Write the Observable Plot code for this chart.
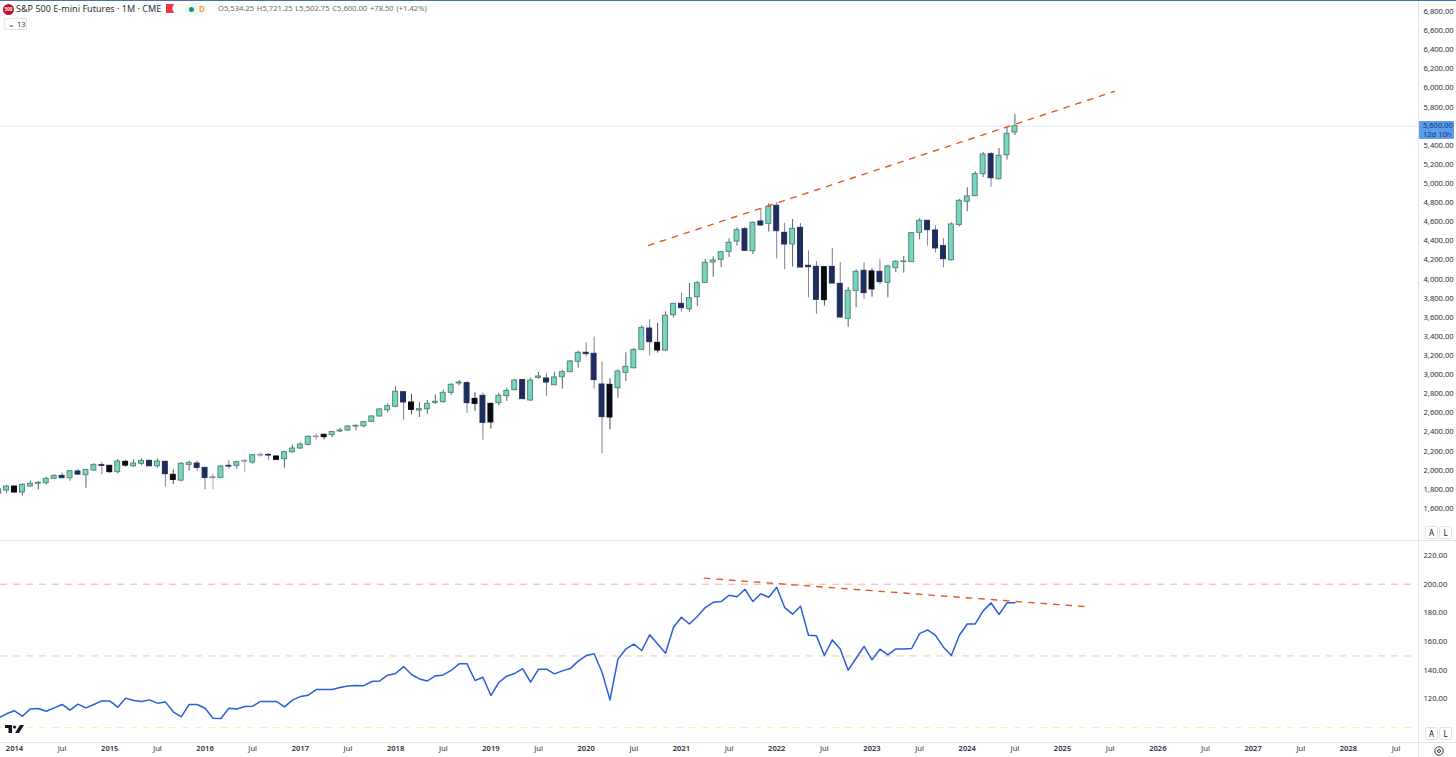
<!DOCTYPE html>
<html><head><meta charset="utf-8">
<script src="https://cdn.jsdelivr.net/npm/d3@7"></script>
<script src="https://cdn.jsdelivr.net/npm/@observablehq/plot@0.6"></script>
<style>
html,body{margin:0;padding:0;background:#fff;overflow:hidden;width:1456px;height:757px}
#page{position:relative;width:1456px;height:757px;font-family:"Noto Sans","Open Sans",sans-serif;color:#131722}
#top,#bottom{position:absolute;left:0}
#top{top:0}#bottom{top:540px}
svg{display:block}
.ov{position:absolute;white-space:nowrap;line-height:1}
.btn{position:absolute;width:11px;height:11px;border:1px solid #e0e3eb;border-radius:2px;font-size:8px;text-align:center;line-height:11px;background:#fff;color:#131722}
</style></head><body><div id="page">
<div id="top"></div><div id="bottom"></div>
<div class="ov" style="left:0;top:0;width:1456px;height:1px;background:#4a6db0"></div>
<div class="ov" style="left:0;top:540px;width:1456px;height:1px;background:#e0e3eb"></div>
<div class="ov" style="left:0;top:742px;width:1456px;height:1px;background:#e0e3eb"></div>
<div class="ov" style="left:1418px;top:1px;width:1px;height:756px;background:#e0e3eb"></div>
<div class="ov" style="left:3px;top:4px;width:11px;height:11px;border-radius:50%;background:#c8102e;color:#fff;font-size:4.5px;font-weight:700;text-align:center;line-height:11px">500</div>
<div class="ov" style="left:16px;top:4px;font-size:9px;letter-spacing:.03px;color:#2a2e39">S&amp;P 500 E-mini Futures · 1M · CME</div>
<svg class="ov" style="left:166px;top:4px" width="9" height="10"><path d="M0 0H8L6 4.5 8 9H0Z" fill="#f23645"/></svg>
<div class="ov" style="left:185px;top:3px;width:22px;height:13px;border-radius:7px;background:#f2f6f5"></div>
<div class="ov" style="left:189px;top:7px;width:5px;height:5px;border-radius:50%;background:#089981"></div>
<div class="ov" style="left:199px;top:5px;font-size:8px;color:#f0a030;font-weight:600">D</div>
<div class="ov" style="left:218px;top:5px;font-size:7.6px;color:#666a75;word-spacing:.8px">O5,534.25 H5,721.25 L5,502.75 C5,600.00 +78.50 (+1.42%)</div>
<div class="ov" style="left:4px;top:18px;width:21px;height:10px;border:1px solid #e0e3eb;border-radius:2px;font-size:7.5px;line-height:10px;color:#333"><span style="margin-left:3px">⌄</span> <span>13</span></div>
<div class="ov" style="left:1419px;top:121px;width:35px;height:18px;background:#5b9cf0;border-radius:1px;color:#17375f;font-size:7.5px;line-height:9px;padding-left:4px;box-sizing:border-box">5,600.00<br>12d 10h</div>
<div class="btn" style="left:1425px;top:526px">A</div><div class="btn" style="left:1439px;top:526px">L</div>
<div class="btn" style="left:1425px;top:727px">A</div><div class="btn" style="left:1439px;top:727px">L</div>
<svg class="ov" style="left:1433px;top:745px" width="12" height="12"><circle cx="6" cy="6" r="4.2" fill="none" stroke="#333" stroke-width="1"/><circle cx="6" cy="6" r="1.5" fill="none" stroke="#333" stroke-width="1"/></svg>
<svg class="ov" style="left:5px;top:725px" width="19" height="9"><path d="M0 0H7V8H3.5V3H0Z M15 0H19L14 8H10Z" fill="#131722"/><circle cx="9.5" cy="2" r="1.6" fill="#131722"/></svg>
</div>
<script>
const highs=[1810,1840,1833,1858,1882,1882,1927,1952,1973,1997,2008,2008,2067,2084,2053,2112,2102,2112,2119,2109,2119,2095,2004,2081,2098,2098,2032,1962,2049,2102,2095,2109,2161,2182,2175,2151,2199,2262,2287,2360,2377,
2378,2406,2437,2465,2475,2507,2570,2646,2695,2873,2824,2796,2706,2730,2789,2838,2904,2939,2929,2810,2807,2702,2807,2859,2950,2946,2964,3023,3009,3023,3047,3148,3246,3333,3393,3131,2957,3051,3229,3274,
3511,3577,3536,3658,3748,3853,3954,3975,4205,4233,4289,4421,4536,4543,4599,4739,4787,4801,4585,4624,4582,4296,4184,4132,4320,4174,3912,
4097,4171,4108,4202,4146,4195,4237,4488,4631,4613,4558,4425,4589,4833,4955,5123,5325,5325,5367,5583,5721.25];
const lows=[1736,1753,1760,1729,1823,1795,1847,1903,1913,1885,1945,1812,1990,1952,1969,1962,2032,2028,2049,2039,2021,1823,1851,1878,1990,1987,1795,1798,1917,2011,2011,1980,2063,2137,2105,2105,2021,2179,2220,2255,2311,
2318,2339,2395,2406,2413,2444,2500,2556,2601,2653,2524,2580,2552,2587,2688,2702,2786,2883,2597,2618,2315,2430,2674,2720,2831,2740,2720,2953,2772,2887,2849,3023,3068,3183,2849,2172,2423,2754,2929,3058,
3253,3194,3225,3243,3595,3654,3654,3713,3954,4020,4121,4226,4345,4289,4257,4554,4491,4212,4097,4125,4118,3804,3633,3717,3950,3595,3497,
3700,3787,3811,3944,3804,4069,4062,4174,4411,4345,4272,4118,4188,4547,4704,4865,5063,4962,5039,5245,5502.75];
const opens=[1755,1788,1830,1767,1830,1858,1865,1910,1941,1917,1987,1948,1997,2053,2046,1980,2088,2042,2067,2098,2042,2088,1952,1892,2056,2070,2025,1927,1920,2046,2046,2098,2081,2161,2161,2144,2116,2189,2227,2266,2353,
2371,2367,2406,2416,2458,2461,2507,2563,2629,2664,2817,2709,2625,2639,2706,2713,2810,2908,2911,2747,2779,2695,2702,2775,2838,2943,2730,2967,2960,2890,2974,3026,3135,3229,3218,2897,2894,2859,3019,3068,
3260,3483,3333,3253,3623,3741,3685,3811,3961,4174,4202,4285,4393,4522,4292,4603,4578,4767,4484,4362,4536,4139,4128,4125,4128,3950,3584,
3878,4087,4080,4076,3961,4115,4178,4178,4484,4610,4509,4345,4198,4565,4809,4868,5098,5307,5046,5297,5534.25];
const closes=[1800,1830,1767,1847,1858,1868,1910,1941,1917,1990,1955,2004,2056,2046,1980,2091,2049,2070,2098,2042,2091,1959,1899,2067,2077,2025,1920,1917,2039,2039,2084,2091,2158,2154,2154,2109,2189,2227,2269,2350,2346,
2346,2399,2416,2458,2465,2503,2563,2636,2671,2821,2709,2632,2639,2695,2716,2810,2894,2918,2702,2695,2496,2500,2779,2831,2939,2744,2939,2981,2918,2971,3026,3138,3229,3215,2943,2556,2552,3033,3082,3257,
3490,3340,3253,3616,3741,3696,3800,3957,4170,4195,4282,4379,4512,4296,4589,4561,4756,4502,4362,4526,4121,4125,3783,3780,3954,3598,3877,
4076,3853,3892,3968,4132,4181,4185,4481,4610,4512,4321,4209,4572,4819,4865,5098,5304,5056,5290,5520,5600];
// u up (teal), d down (navy), k black, l thin pale doji
const kinds=[
"u","u","k","u","u","u","u","u","d","u","d","u","u","d","k","u","k","u","u","d","u","d","k","u","u","d","d","l","u","d","u","l","u","l","d","k","u","u","u","u","l",
"k","u","u","u","u","u","u","u","u","u","d","k","u","u","u","u","u","u","d","k","d","k","u","u","u","d","u","u","d","u","u","u","u","d","d","d","k","u","u","u",
"u","d","k","u","u","d","u","u","u","u","u","u","u","d","u","d","u","d","d","u","d","d","d","k","d","d","u",
"u","d","k","d","u","u","u","u","u","d","d","d","u","u","u","u","u","d","u","u","u"];
// oscillator, one value per month from the same first month
const osc=[106.9,109.7,111.8,108,113.1,113.4,111.5,113.8,116.2,112.2,116.4,113.8,116.2,118.7,118.7,114.3,120.6,119,118.3,119.4,117.1,118,111.1,107.6,116.2,116.2,113.6,106.6,106.4,113.6,113.1,114.8,115,118.3,118.3,118.3,114.5,119.2,121.7,122.7,126.6,126.6,126.6,128,129,129.4,129.3,
132.2,132.6,136.6,137.8,142.6,137.1,134,132.6,136.1,136.8,139.9,144.5,144.5,132.9,135.2,122.4,131.5,135.9,137.8,141.2,131.7,140.8,140.8,137.5,139.6,141.2,146.4,150.3,151.5,138.7,119.4,147.7,154.9,158.2,153.8,164.7,158.4,151.9,170,
177,172.3,177.5,183.7,187.4,187.9,192.3,191.2,196.5,187.9,193.3,190.9,197.9,183.7,179.1,184.7,164.4,164,150.3,161.2,154.9,140.1,148.4,156.6,147.3,154.7,150.7,154.9,154.9,155.2,165.6,168.2,164.4,156.1,150.3,164.4,172.3,172.3,181.4,187,178.9,187,187];
const firstMonth=-2;
const candles=opens.map((o,k)=>({i:k+firstMonth,o,c:closes[k],h:highs[k],l:lows[k],kind:kinds[k]}));
const oscRows=osc.map((v,k)=>({i:k+firstMonth,v}));
const priceTicks=d3.range(1600,6801,200);
const oscTicks=[120,140,160,180,200,220];
const yearTicks=[0,12,24,36,48,60,72,84,96,108,120,132,144,156,168];
const yearLabels=["2014","2015","2016","2017","2018","2019","2020","2021","2022","2023","2024","2025","2026","2027","2028"];
const priceTrendX=[79.85,138.5],priceTrendY=[4352,5963];
const oscTrendX=[86.9,135.1],oscTrendY=[204.2,184.3];
const oscLevels=[{v:200,c:"#f5aaaa"},{v:150,c:"#f6c88a"},{v:100,c:"#fbe8a2"}];
const fills={u:"#7ad4bf",d:"#1f2d5e",k:"#0a0a14",l:"#8c92a8"};
const strokes={u:"#4f8a7c",d:"#1f2d5e",k:"#0a0a14",l:"#8c92a8"};
const wicks={u:"#566464",d:"#7b8299",k:"#454750",l:"#a0a5b8"};
const font='"Noto Sans","Open Sans",sans-serif';
const xDomain=[-1.763,176.83];
const W=1456,MR=38;

const topChart=Plot.plot({width:W,height:540,marginLeft:0,marginRight:MR,marginTop:0,marginBottom:0,
 style:{background:"transparent",fontFamily:font,fontSize:"7.6px",color:"#131722"},
 x:{domain:xDomain,axis:null},
 y:{domain:[1265,6915],axis:null},
 marks:[
  Plot.ruleY([5600],{stroke:"#c4d6f2",strokeWidth:1,strokeDasharray:"1 1"}),
  Plot.ruleX(candles,{x:"i",y1:"l",y2:"h",stroke:d=>wicks[d.kind],strokeWidth:1,clip:true}),
  Plot.rect(candles,{x1:d=>d.i-.31,x2:d=>d.i+.31,y1:"o",y2:"c",fill:d=>fills[d.kind],stroke:d=>strokes[d.kind],strokeWidth:1,clip:true}),
  Plot.line(priceTrendX.map((x,k)=>({x,y:priceTrendY[k]})),{x:"x",y:"y",stroke:"#e2591c",strokeWidth:1.4,strokeDasharray:"5.5 7"}),
  Plot.axisY({anchor:"right",ticks:priceTicks,tickFormat:d3.format(",.2f"),tickSize:0,tickPadding:5,textAnchor:"start",label:null,color:"#2a2e39"})
 ]});
document.getElementById("top").append(topChart);

const botChart=Plot.plot({width:W,height:217,marginLeft:0,marginRight:MR,marginTop:0,marginBottom:15,
 style:{background:"transparent",fontFamily:font,fontSize:"7.6px",color:"#131722"},
 x:{domain:xDomain,axis:null},
 y:{domain:[89.7,230.45],axis:null},
 marks:[
  Plot.ruleY(oscLevels,{y:"v",stroke:"c",strokeWidth:1,strokeDasharray:"7 6"}),
  Plot.line(oscRows,{x:"i",y:"v",stroke:"#2a5fd8",strokeWidth:1.5,clip:true}),
  Plot.line(oscTrendX.map((x,k)=>({x,y:oscTrendY[k]})),{x:"x",y:"y",stroke:"#e2591c",strokeWidth:1.4,strokeDasharray:"5.5 7"}),
  Plot.axisY({anchor:"right",ticks:oscTicks,tickFormat:d3.format(".2f"),tickSize:0,tickPadding:5,textAnchor:"start",label:null,color:"#2a2e39"}),
  Plot.axisX({anchor:"bottom",ticks:yearTicks,tickFormat:d=>yearLabels[yearTicks.indexOf(d)],tickSize:0,tickPadding:3.5,label:null,fontWeight:600,color:"#2a2e39"}),
  Plot.axisX({anchor:"bottom",ticks:yearTicks.map(d=>d+6),tickFormat:()=>"Jul",tickSize:0,tickPadding:3.5,label:null,color:"#2a2e39"})
 ]});
document.getElementById("bottom").append(botChart);
</script></body></html>
